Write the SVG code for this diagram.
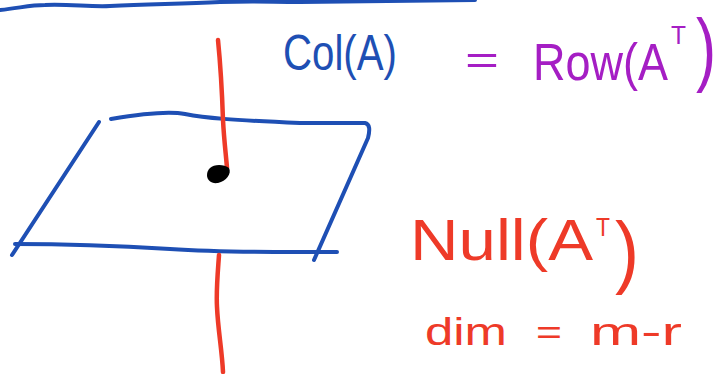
<svg xmlns="http://www.w3.org/2000/svg" width="724" height="374" viewBox="0 0 724 374">
<style>
.b{fill:none;stroke:#1e4fb4;stroke-width:4;stroke-linecap:round;stroke-linejoin:round}
.r{fill:none;stroke:#ee3a28;stroke-width:4.5;stroke-linecap:round;stroke-linejoin:round}
.t{font-family:"Liberation Sans","DejaVu Sans",sans-serif}
.tb{fill:#1e4fb4}.tp{fill:#a51ec4}.tr{fill:#ee3a28}
</style>
<rect width="724" height="374" fill="#fff"/>
<g id="topline">
<path class="b" d="M0 10 C20 8 30 5 45 5 C70 4 90 7 110 6 C150 4 180 4 220 2 C260 1 270 2 300 2 C360 1 420 1 475 0" stroke-width="3"/>
</g>
<g id="plane">
<path class="b" d="M99 122 L12 255"/>
<path class="b" d="M111 119 C140 114 170 111 185 114 C205 118 230 120 300 123 L365 123 C370 124 370 130 368 138 L314 260"/>
<path class="b" d="M15 244 C60 244 120 246 170 249 C230 253 280 252 337 252"/>
</g>
<g id="vector">
<path class="r" d="M218 40 C220 60 222 90 223 120 C224 140 226 155 227 168"/>
<path class="r" d="M219 255 C218 270 216 290 217 307 C218 330 222 350 223 372"/>
<path d="M210 168 C214 164 224 164 229 168 C232 174 226 181 218 183 C211 184 207 180 207 175 C207 172 208 170 210 168 Z" fill="#000"/>
</g>
<g id="labels">
<text class="t tb" x="283" y="70" font-size="50" textLength="114" lengthAdjust="spacingAndGlyphs">Col(A)</text>
<text class="t tp" x="465" y="74" font-size="40" textLength="34" lengthAdjust="spacingAndGlyphs">=</text>
<text class="t tp" x="533" y="80" font-size="52" textLength="135" lengthAdjust="spacingAndGlyphs">Row(A</text>
<text class="t tp" x="671" y="44" font-size="26" textLength="15" lengthAdjust="spacingAndGlyphs">T</text>
<text class="t tp" x="696" y="76" font-size="82" textLength="20" lengthAdjust="spacingAndGlyphs">)</text>
<text class="t tr" x="410" y="260" font-size="58" textLength="183" lengthAdjust="spacingAndGlyphs">Null(A</text>
<text class="t tr" x="596" y="236" font-size="26" textLength="14" lengthAdjust="spacingAndGlyphs">T</text>
<text class="t tr" x="615" y="278" font-size="80" textLength="24" lengthAdjust="spacingAndGlyphs">)</text>
<text class="t tr" x="425" y="345" font-size="38" textLength="82" lengthAdjust="spacingAndGlyphs">dim</text>
<text class="t tr" x="536" y="344" font-size="34" textLength="26" lengthAdjust="spacingAndGlyphs">=</text>
<text class="t tr" x="590" y="345" font-size="38" textLength="92" lengthAdjust="spacingAndGlyphs">m-r</text>
</g>
</svg>
